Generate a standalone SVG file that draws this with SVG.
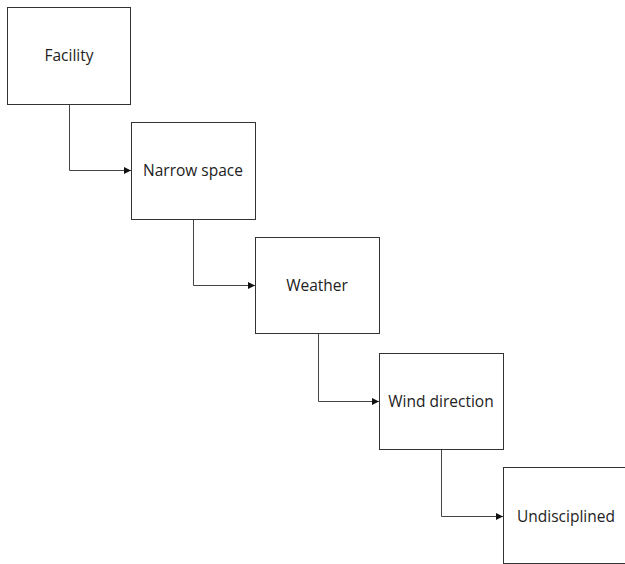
<svg xmlns="http://www.w3.org/2000/svg" width="625" height="564" viewBox="0 0 625 564">
<style>
.box{fill:#fff;stroke:#333;stroke-width:1}
.lbl{font-family:"Open Sans","Noto Sans",sans-serif;font-size:15.5px;fill:#222;text-anchor:middle;dominant-baseline:central}
.conn{fill:none;stroke:#444;stroke-width:1}
</style>
<defs>
<marker id="arr" viewBox="0 0 10 10" refX="10" refY="5" markerWidth="7" markerHeight="7" markerUnits="userSpaceOnUse" orient="auto">
<path d="M0,0 L10,5 L0,10 z" fill="#111"/>
</marker>
</defs>
<rect width="625" height="564" fill="#fff"/>
<g id="connectors">
<path class="conn" d="M69.5,104 V170.5 H131" marker-end="url(#arr)"/>
<path class="conn" d="M193.5,219 V285.5 H255" marker-end="url(#arr)"/>
<path class="conn" d="M318.5,333 V401.5 H379" marker-end="url(#arr)"/>
<path class="conn" d="M441.5,449 V516.5 H503" marker-end="url(#arr)"/>
</g>
<g id="facility"><rect class="box" x="7.5" y="7.5" width="123" height="97"/><text class="lbl" x="69" y="55">Facility</text></g>
<g id="narrow-space"><rect class="box" x="131.5" y="122.5" width="124" height="97"/><text class="lbl" x="193" y="170">Narrow space</text></g>
<g id="weather"><rect class="box" x="255.5" y="237.5" width="124" height="96"/><text class="lbl" x="317" y="285">Weather</text></g>
<g id="wind-direction"><rect class="box" x="379.5" y="353.5" width="124" height="96"/><text class="lbl" x="441" y="401">Wind direction</text></g>
<g id="undisciplined"><rect class="box" x="503.5" y="467.5" width="125" height="96"/><text class="lbl" x="566" y="516">Undisciplined</text></g>
</svg>
